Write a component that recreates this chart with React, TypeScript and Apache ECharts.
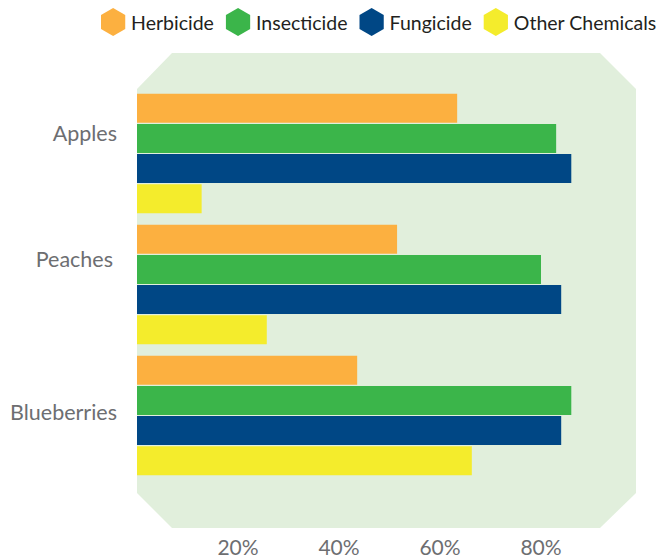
import React, { useEffect, useRef } from "react";
import * as echarts from "echarts";

const categories = ["Apples", "Peaches", "Blueberries"];
const seriesNames = ["Herbicide", "Insecticide", "Fungicide", "Other Chemicals"];
const herbicide = [63.4, 51.5, 43.6];
const insecticide = [83, 80, 86];
const fungicide = [86, 84, 84];
const otherChemicals = [12.8, 25.7, 66.3];
const xTicks = [20, 40, 60, 80];

const colors = ["#fcb040", "#3bb54a", "#004785", "#f4ec2c"];
const hexIcon = "path://M50,0 L93.3,25 L93.3,75 L50,100 L6.7,75 L6.7,25 Z";

export default function App() {
  const ref = useRef<HTMLDivElement>(null);
  useEffect(() => {
    document.body.style.margin = "0";
    const chart = echarts.init(ref.current!, null, { renderer: "svg" });
    const values = [herbicide, insecticide, fungicide, otherChemicals];
    const richKeys = ["a", "b", "c"];
    const labelFont = "Lato";
    chart.setOption({
      animation: false,
      textStyle: { fontFamily: labelFont },
      graphic: [
        {
          type: "polygon",
          silent: true,
          z: 0,
          shape: {
            points: [
              [172, 53], [600, 53], [636, 89], [636, 493],
              [600, 528], [172, 528], [137, 493], [137, 89],
            ],
          },
          style: { fill: "#e1efdc" },
        },
      ],
      legend: {
        left: 101,
        top: 8,
        width: 563,
        padding: 0,
        itemWidth: 26,
        itemHeight: 28,
        itemGap: 12,
        data: seriesNames.map((n) => ({ name: n, icon: hexIcon })),
        textStyle: { fontSize: 19.5, color: "#231f20", fontFamily: labelFont },
      },
      grid: { left: 137, top: 88, width: 505, height: 393 },
      xAxis: {
        type: "value",
        min: 0,
        max: 100,
        interval: 20,
        splitLine: { show: false },
        axisLine: { show: false },
        axisTick: { show: false },
        axisLabel: {
          margin: 55,
          fontSize: 21,
          lineHeight: 20,
          color: "#6d6e71",
          fontFamily: labelFont,
          formatter: (v: number) => (xTicks.includes(v) ? v + "%" : ""),
        },
      },
      yAxis: {
        type: "category",
        inverse: true,
        data: categories,
        axisLine: { show: false },
        axisTick: { show: false },
        axisLabel: {
          margin: 20,
          fontSize: 21.5,
          color: "#6d6e71",
          fontFamily: labelFont,
          formatter: (v: string) => {
            const i = categories.indexOf(v);
            return "{" + richKeys[i] + "|" + v + "}";
          },
          rich: {
            a: { fontSize: 21.5, color: "#6d6e71", fontFamily: labelFont, padding: [0, 0, 41, 0] },
            b: { fontSize: 21.5, color: "#6d6e71", fontFamily: labelFont, padding: [0, 4, 51, 0] },
            c: { fontSize: 21.5, color: "#6d6e71", fontFamily: labelFont, padding: [0, 0, 8, 0] },
          },
        },
      },
      series: seriesNames.map((name, i) => ({
        name,
        type: "bar",
        data: values[i],
        barWidth: 29,
        barGap: "4%",
        itemStyle: { color: colors[i] },
        z: 2,
      })),
    });
    return () => chart.dispose();
  }, []);
  return <div ref={ref} style={{ width: 664, height: 557 }} />;
}
